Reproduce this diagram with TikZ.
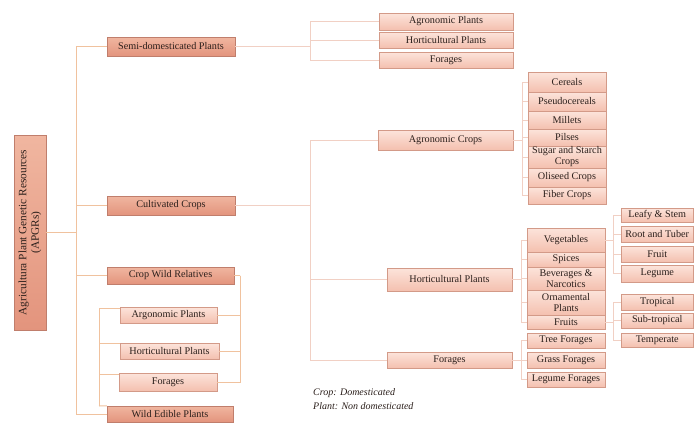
\documentclass[tikz,border=0pt]{standalone}
\usepackage{fontspec}
\setmainfont{Liberation Serif}
\definecolor{lonetop}{HTML}{F0B6A0}
\definecolor{lonebot}{HTML}{E3947D}
\definecolor{loneborder}{HTML}{C07E6C}
\definecolor{ltwotop}{HTML}{FCE4DB}
\definecolor{ltwobot}{HTML}{F4C0AF}
\definecolor{ltwoborder}{HTML}{D39A88}
\definecolor{trunkc}{HTML}{F0C29E}
\definecolor{wirec}{HTML}{F1D0C4}
\definecolor{txt}{HTML}{2C201C}
\tikzset{
  lone/.style={draw=loneborder, top color=lonetop, bottom color=lonebot, inner sep=0pt, text=txt, align=center, font=\fontsize{10.2}{11}\selectfont},
  ltwo/.style={draw=ltwoborder, top color=ltwotop, bottom color=ltwobot, inner sep=0pt, text=txt, align=center, font=\fontsize{10.2}{11}\selectfont},
  trunkline/.style={draw=trunkc, line width=1pt},
  wire/.style={draw=wirec, line width=0.9pt},
  notetext/.style={anchor=west, inner sep=0pt, text=txt, font=\fontsize{10}{11}\selectfont\itshape},
}
\newcommand\bx[7]{\node[#1, minimum width=#5pt, minimum height=#6pt] (#2) at (#3,#4) {#7};}
\begin{document}
\begin{tikzpicture}[x=1pt,y=-1pt]
\fill[white] (0,0) rectangle (694,423);
\useasboundingbox (0,0) rectangle (694,423);

% root
\node[lone, rotate=90, minimum width=195pt, minimum height=32pt, font=\fontsize{11.3}{12.5}\selectfont] (root) at (30,232.5) {Agricultura Plant Genetic Resources\\(APGRs)};

% level 1
\bx{lone}{semi}{171}{46.5}{128}{19}{Semi-domesticated Plants}
\bx{lone}{cult}{171}{205.5}{128}{19}{Cultivated Crops}
\bx{lone}{cwr}{170.5}{275.5}{127}{17}{Crop Wild Relatives}
\bx{lone}{wep}{170}{414}{126}{16}{Wild Edible Plants}

% semi-domesticated children
\bx{ltwo}{agp}{446}{21.5}{134}{17}{Agronomic Plants}
\bx{ltwo}{hop}{446}{40}{134}{16}{Horticultural Plants}
\bx{ltwo}{foa}{446}{60}{134}{16}{Forages}

% cultivated children
\bx{ltwo}{agc}{445.5}{140}{135}{20}{Agronomic Crops}
\bx{ltwo}{hpl}{449.5}{279.5}{125}{23}{Horticultural Plants}
\bx{ltwo}{fob}{449.5}{360}{125}{16}{Forages}

% agronomic crops children
\bx{ltwo}{cer}{567}{82}{78}{20}{Cereals}
\bx{ltwo}{pse}{567}{101.5}{78}{19}{Pseudocereals}
\bx{ltwo}{mil}{567}{120}{78}{18}{Millets}
\bx{ltwo}{pil}{567}{137.5}{78}{17}{Pilses}
\bx{ltwo}{sug}{567}{157}{78}{22}{Sugar and Starch\\Crops}
\bx{ltwo}{oli}{567}{177.5}{78}{19}{Oliseed Crops}
\bx{ltwo}{fib}{567}{195.5}{78}{17}{Fiber Crops}

% horticultural children
\bx{ltwo}{veg}{566}{240}{78}{24}{Vegetables}
\bx{ltwo}{spi}{566}{259.5}{78}{15}{Spices}
\bx{ltwo}{bev}{566}{278.5}{78}{23}{Beverages \&\\Narcotics}
\bx{ltwo}{orn}{566}{302.5}{78}{25}{Ornamental\\Plants}
\bx{ltwo}{fru}{566}{322}{78}{14}{Fruits}

% forages children
\bx{ltwo}{tre}{566}{340.5}{78}{15}{Tree Forages}
\bx{ltwo}{gra}{566}{360}{78}{16}{Grass Forages}
\bx{ltwo}{leg}{566}{379.5}{78}{15}{Legume Forages}

% vegetables children
\bx{ltwo}{lea}{657.25}{215}{72.5}{14}{Leafy \& Stem}
\bx{ltwo}{roo}{657.25}{234}{72.5}{16}{Root and Tuber}
\bx{ltwo}{vfr}{657.25}{254}{72.5}{16}{Fruit}
\bx{ltwo}{vle}{657.25}{273.5}{72.5}{17}{Legume}

% fruits children
\bx{ltwo}{tro}{657.25}{302}{72.5}{16}{Tropical}
\bx{ltwo}{sub}{657.25}{320.5}{72.5}{15}{Sub-tropical}
\bx{ltwo}{tem}{657.25}{340}{72.5}{14}{Temperate}

% crop wild relatives children
\bx{ltwo}{ap}{168.5}{315}{97}{16}{Argonomic Plants}
\bx{ltwo}{hp}{169.5}{351}{99}{16}{Horticultural Plants}
\bx{ltwo}{fc}{168}{382}{98}{18}{Forages}

% note
\node[notetext] (n1) at (313,393) {Crop: Domesticated};
\node[notetext] (n2) at (313,406.5) {Plant: Non domesticated};

% branch points
\coordinate (tr) at (76,232.5);
\coordinate (b1) at (310,46.5);
\coordinate (b2) at (310,205.5);
\coordinate (b3) at (522,140);
\coordinate (b4) at (521,279.5);
\coordinate (b5) at (521,360);
\coordinate (b6) at (613,240);
\coordinate (b7) at (613,322);
\coordinate (b8) at (240,275.5);
\coordinate (b9) at (99,406);

% trunk
\draw[trunkline] (root.south) -- (tr);
\draw[trunkline] (tr) |- (semi.west);
\draw[trunkline] (tr) |- (cult.west);
\draw[trunkline] (tr) |- (cwr.west);
\draw[trunkline] (tr) |- (wep.west);

% crop wild relatives bracket
\draw[trunkline] (cwr.east) -- (b8);
\draw[trunkline] (b8) |- (ap.east);
\draw[trunkline] (b8) |- (hp.east);
\draw[trunkline] (b8) |- (fc.east);

% wild edible plants bracket
\draw[trunkline] (b9) |- ([yshift=-1.5pt]ap.north west);
\draw[trunkline] (b9) |- ([yshift=-0.5pt]hp.north west);
\draw[trunkline] (b9) |- ([yshift=-2pt]fc.north west);
\draw[trunkline] (b9) -- (wep.north west);

% right side wires
\draw[wire] (semi.east) -- (b1);
\draw[wire] (b1) |- (agp.west);
\draw[wire] (b1) |- (hop.west);
\draw[wire] (b1) |- (foa.west);

\draw[wire] (cult.east) -- (b2);
\draw[wire] (b2) |- (agc.west);
\draw[wire] (b2) |- (hpl.west);
\draw[wire] (b2) |- (fob.west);

\draw[wire] (agc.east) -- (b3);
\foreach \c in {cer,pse,mil,pil,sug,oli,fib} \draw[wire] (b3) |- (\c.west);

\draw[wire] (hpl.east) -- (b4);
\foreach \c in {veg,spi,bev,orn,fru} \draw[wire] (b4) |- (\c.west);

\draw[wire] (fob.east) -- (b5);
\foreach \c in {tre,gra,leg} \draw[wire] (b5) |- (\c.west);

\draw[wire] (veg.east) -- (b6);
\foreach \c in {lea,roo,vfr,vle} \draw[wire] (b6) |- (\c.west);

\draw[wire] (fru.east) -- (b7);
\foreach \c in {tro,sub,tem} \draw[wire] (b7) |- (\c.west);
\end{tikzpicture}
\end{document}
